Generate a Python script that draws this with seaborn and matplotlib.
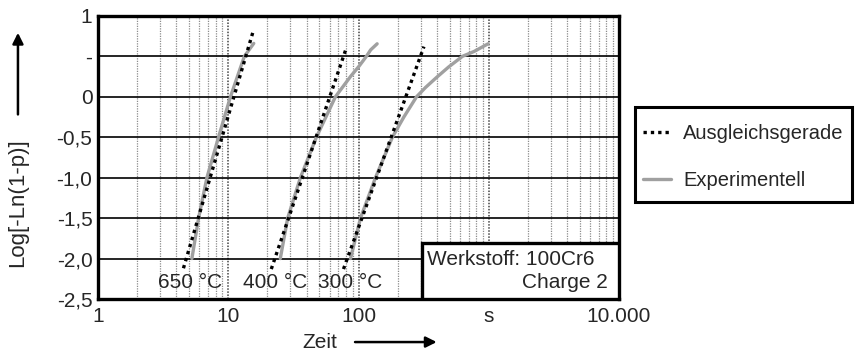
import numpy as np
import pandas as pd
import matplotlib
matplotlib.use("Agg")
import matplotlib.pyplot as plt
import seaborn as sns
from matplotlib.patches import Rectangle
from matplotlib.lines import Line2D

# fitted lines (Ausgleichsgerade), two end points each
fit_650_x = [4.53, 15.7]
fit_650_y = [-2.12, 0.835]
fit_400_x = [21.4, 80.9]
fit_400_y = [-2.13, 0.61]
fit_300_x = [76.7, 318]
fit_300_y = [-2.13, 0.62]

# experimental curves
exp_650_x = [5.26, 5.92, 6.86, 8.42, 10.4, 13.3, 15.7]
exp_650_y = [-2.0, -1.5, -1.0, -0.5, 0.0, 0.5, 0.66]
exp_400_x = [25.1, 28.6, 35.8, 47.5, 66.5, 86.8, 100.6, 115, 124, 139]
exp_400_y = [-2.0, -1.5, -1.0, -0.5, 0.0, 0.25, 0.375, 0.5, 0.58, 0.655]
exp_300_x = [86.8, 103.6, 135, 182, 223, 279, 327, 398, 490, 628, 771, 988]
exp_300_y = [-2.0, -1.5, -1.0, -0.5, -0.25, 0.0, 0.115, 0.24, 0.366, 0.5, 0.56, 0.655]

temps = ["650 °C", "400 °C", "300 °C"]
temp_label_x = [5.1, 23, 87]

yticks = [1, 0.5, 0, -0.5, -1.0, -1.5, -2.0, -2.5]
ytick_labels = ["1", "-", "0", "-0,5", "-1,0", "-1,5", "-2,0", "-2,5"]
xticks = [1, 10, 100, 1000, 10000]
xtick_labels = ["1", "10", "100", "s", "10.000"]

sns.set_style("white")
plt.rcParams['font.family'] = ['Liberation Sans', 'DejaVu Sans']
FS = 15

fig = plt.figure(figsize=(8.55, 3.53), dpi=100)
ax = fig.add_axes([0.1146, 0.153, 0.6094, 0.802])

fits = [(fit_650_x, fit_650_y), (fit_400_x, fit_400_y), (fit_300_x, fit_300_y)]
exps = [(exp_650_x, exp_650_y), (exp_400_x, exp_400_y), (exp_300_x, exp_300_y)]

for x, y in exps:
    df = pd.DataFrame({"t": x, "v": y})
    sns.lineplot(data=df, x="t", y="v", ax=ax, color="#a0a0a0", lw=2.4,
                 sort=False, estimator=None, zorder=3)
for x, y in fits:
    df = pd.DataFrame({"t": x, "v": y})
    sns.lineplot(data=df, x="t", y="v", ax=ax, color="black", lw=2.4,
                 linestyle=(0, (1, 1.2)), sort=False, estimator=None, zorder=4)

ax.set_xscale("log")
ax.set_xlim(1, 10000)
ax.set_ylim(-2.5, 1)

# grid: dotted verticals, solid horizontals
for dec in [1, 10, 100, 1000]:
    for m in range(2, 10):
        ax.axvline(dec * m, color="#8c8c8c", lw=0.9, ls=(0, (1, 1)), zorder=1)
    if dec > 1:
        ax.axvline(dec, color="#444444", lw=1.1, ls=(0, (1, 1)), zorder=1)
for yy in [0.5, 0, -0.5, -1.0, -1.5, -2.0]:
    ax.axhline(yy, color="black", lw=1.2, zorder=2)

ax.set_xticks(xticks)
ax.set_xticklabels(xtick_labels, fontsize=FS)
ax.set_yticks(yticks)
ax.set_yticklabels(ytick_labels, fontsize=FS)
ax.minorticks_off()
ax.tick_params(axis="both", length=2, width=1, direction="out", pad=2)
ax.tick_params(axis="x", pad=4)
ax.set_xlabel("")
ax.set_ylabel("")
for s in ax.spines.values():
    s.set_linewidth(2.4)
    s.set_color("black")

for lab, lx in zip(temps, temp_label_x):
    ax.text(lx, -2.30, lab, ha="center", va="center", fontsize=FS, zorder=5)

# material box
ax.add_patch(Rectangle((0.622, 0.0), 0.378, 0.198, transform=ax.transAxes,
                       facecolor="white", edgecolor="black", lw=2.4, zorder=6))
ax.text(0.631, 0.138, "Werkstoff: 100Cr6", transform=ax.transAxes, fontsize=FS,
        ha="left", va="center", zorder=7)
ax.text(0.979, 0.057, "Charge 2", transform=ax.transAxes, fontsize=FS,
        ha="right", va="center", zorder=7)

# axis labels with arrows
fig.text(0.021, 0.425, "Log[-Ln(1-p)]", rotation=90, ha="center", va="center", fontsize=16)
ax.annotate("", xy=(0.021, 0.915), xytext=(0.021, 0.668), xycoords="figure fraction",
            arrowprops=dict(arrowstyle="-|>", color="black", lw=1.8, mutation_scale=16))
fig.text(0.374, 0.031, "Zeit", ha="center", va="center", fontsize=FS)
ax.annotate("", xy=(0.514, 0.031), xytext=(0.412, 0.031), xycoords="figure fraction",
            arrowprops=dict(arrowstyle="-|>", color="black", lw=1.8, mutation_scale=16))

# legend box
fig.add_artist(Rectangle((0.743, 0.428), 0.253, 0.269, transform=fig.transFigure,
                         facecolor="white", edgecolor="black", lw=2.2))
handles = [Line2D([], [], color="black", lw=2.4, ls=(0, (1, 1.2))),
           Line2D([], [], color="#a0a0a0", lw=2.4)]
leg = fig.legend(handles, ["Ausgleichsgerade", "Experimentell"], loc="upper left",
                 bbox_to_anchor=(0.752, 0.650), fontsize=14.5, frameon=False,
                 handlelength=1.4, labelspacing=1.4, borderpad=0, borderaxespad=0,
                 handletextpad=0.6)

fig.savefig("out.png", dpi=100)
